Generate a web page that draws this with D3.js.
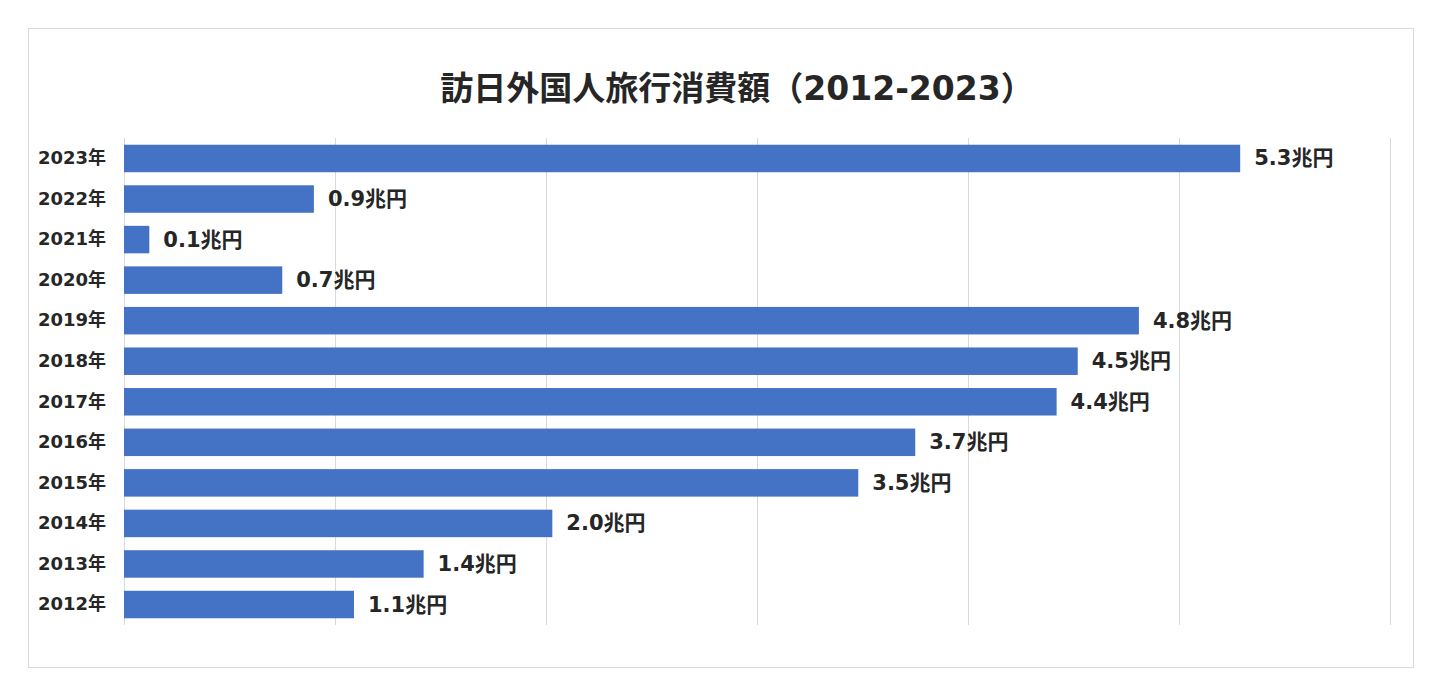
<!DOCTYPE html>
<html><head><meta charset="utf-8">
<script src="https://cdn.jsdelivr.net/npm/d3@7/dist/d3.min.js"></script>
<style>
html,body{margin:0;padding:0;background:#fff;}
svg{display:block;font-family:"DejaVu Sans","Noto Sans CJK JP",sans-serif;}
</style></head>
<body>
<svg id="chart" width="1440" height="684"></svg>
<script>
const title = "訪日外国人旅行消費額（2012-2023）";
const years = ["2023年","2022年","2021年","2020年","2019年","2018年","2017年","2016年","2015年","2014年","2013年","2012年"];
const values = [5.29,0.90,0.12,0.75,4.81,4.52,4.42,3.75,3.48,2.03,1.42,1.09];
const valueLabels = ["5.3兆円","0.9兆円","0.1兆円","0.7兆円","4.8兆円","4.5兆円","4.4兆円","3.7兆円","3.5兆円","2.0兆円","1.4兆円","1.1兆円"];
const xTicks = [0,1,2,3,4,5,6];

const svg = d3.select("#chart");
svg.append("rect").attr("x",28.5).attr("y",28.5).attr("width",1385).attr("height",639)
  .attr("fill","#fff").attr("stroke","#d9d9d9").attr("stroke-width",1);

svg.append("text").attr("x",737).attr("y",88).attr("text-anchor","middle")
  .attr("dominant-baseline","central").attr("font-size",33).attr("font-weight","bold")
  .attr("fill","#262626").text(title);

const x = d3.scaleLinear().domain([0,6]).range([124,1390]);
const y = d3.scaleBand().domain(years).range([138,625]).paddingInner(0.322).paddingOuter(0.166);

const grid = d3.axisBottom(x).tickValues(xTicks).tickSize(-(625-138)).tickFormat("");
const g = svg.append("g").attr("transform","translate(0,625)").call(grid);
g.select(".domain").remove();
g.selectAll(".tick line").attr("stroke","#d9d9d9").attr("stroke-width",1);

const yAxis = d3.axisLeft(y).tickSize(0).tickPadding(18);
const ya = svg.append("g").attr("transform","translate(124,0)").call(yAxis);
ya.select(".domain").remove();
ya.selectAll("text").attr("font-size",18).attr("font-weight","bold").attr("fill","#262626")
  .attr("font-family",'"DejaVu Sans","Noto Sans CJK JP",sans-serif');

svg.append("g").selectAll("rect").data(years).join("rect")
  .attr("x",x(0)).attr("y",d=>y(d)).attr("height",y.bandwidth())
  .attr("width",(d,i)=>x(values[i])-x(0)).attr("fill","#4472C4");

svg.append("g").selectAll("text").data(years).join("text")
  .attr("x",(d,i)=>x(values[i])+14).attr("y",d=>y(d)+y.bandwidth()/2)
  .attr("dominant-baseline","central").attr("font-size",21).attr("font-weight","bold")
  .attr("fill","#262626").text((d,i)=>valueLabels[i]);
</script>
</body></html>
